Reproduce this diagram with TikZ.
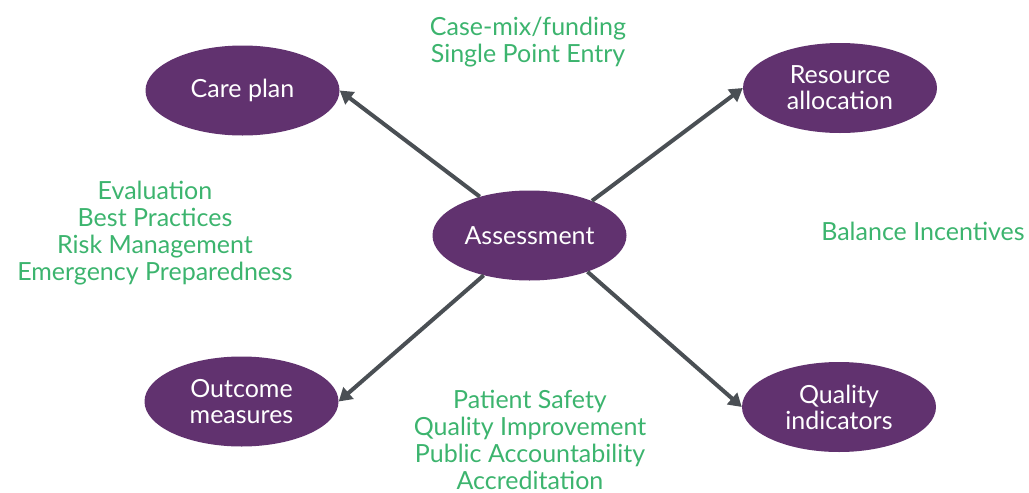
\documentclass[tikz,border=0pt]{standalone}
\usepackage{fontspec}
\setmainfont{Lato}
\usetikzlibrary{shapes.geometric,arrows.meta}
\definecolor{nodepurple}{HTML}{61326F}
\definecolor{arrowgrey}{HTML}{4A4F54}
\definecolor{labelgreen}{HTML}{3CB46E}
\tikzset{
  bubble/.style={ellipse, fill=nodepurple, draw=none, minimum width=194pt, minimum height=90pt,
    inner sep=0pt, text=white, align=center, font=\fontsize{25}{26}\selectfont},
  link/.style={draw=arrowgrey, line width=4pt, -{Triangle[length=13pt,width=15pt]}},
  note/.style={text=labelgreen, align=center, font=\fontsize{25}{27}\selectfont, inner sep=0pt}
}
\begin{document}
\begin{tikzpicture}[x=1pt,y=-1pt]
\useasboundingbox (0,0) rectangle (1029,493);
\node[bubble] (assess) at (529.5,235.5) {Assessment};
\node[bubble] (care) at (242.5,90.5) {Care plan};
\node[bubble] (resource) at (840,88) {Resource\\allocation};
\node[bubble] (quality) at (839,407) {Quality\\indicators};
\node[bubble] (outcome) at (241.5,401.5) {Outcome\\measures};
\draw[link] (assess.142) -- (care.east);
\draw[link] (assess.29) -- (resource.west);
\draw[link] (assess.-32) -- (quality.west);
\draw[link] (assess.-139) -- (outcome.east);
\node[note] (top) at (528,42) {Case-mix/funding\\Single Point Entry};
\node[note] (left) at (155,233) {Evaluation\\Best Practices\\Risk Management\\Emergency Preparedness};
\node[note] (right) at (923,231) {Balance Incentives};
\node[note] (bottom) at (530,440) {Patient Safety\\Quality Improvement\\Public Accountability\\Accreditation};
\end{tikzpicture}
\end{document}
